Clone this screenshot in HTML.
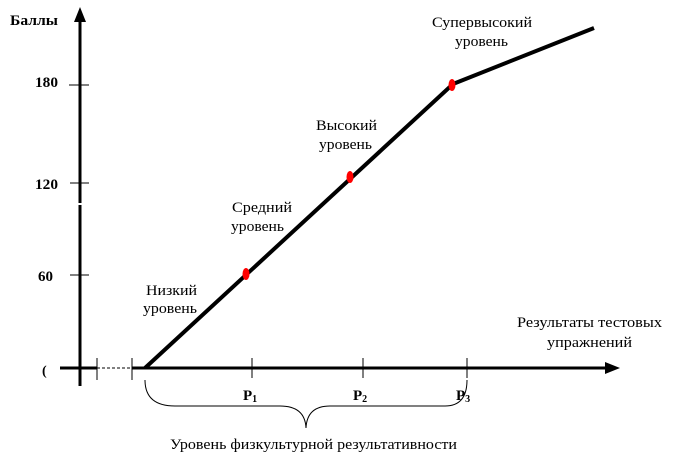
<!DOCTYPE html>
<html><head><meta charset="utf-8"><style>
html,body{margin:0;padding:0;background:#fff;}
svg{display:block;}
text{font-family:"Liberation Serif",serif;fill:#000;}
</style></head><body>
<svg width="675" height="461" viewBox="0 0 675 461" xmlns="http://www.w3.org/2000/svg">
<line x1="80" y1="20" x2="80" y2="203" stroke="#000" stroke-width="3"/>
<line x1="80" y1="205" x2="80" y2="386" stroke="#000" stroke-width="3"/>
<polygon points="80,7 74,22 86,22" fill="#000"/>
<line x1="69" y1="85" x2="89" y2="85" stroke="#000" stroke-width="1"/>
<line x1="70" y1="183" x2="89" y2="183" stroke="#000" stroke-width="1"/>
<line x1="70" y1="275" x2="89" y2="275" stroke="#000" stroke-width="1"/>
<line x1="60" y1="368" x2="97" y2="368" stroke="#000" stroke-width="3"/>
<line x1="97" y1="368" x2="132" y2="368" stroke="#000" stroke-width="1" stroke-dasharray="3,2"/>
<line x1="132" y1="368" x2="606" y2="368" stroke="#000" stroke-width="3"/>
<polygon points="620,368 605,362 605,374" fill="#000"/>
<line x1="97" y1="358" x2="97" y2="380" stroke="#000" stroke-width="1"/>
<line x1="132" y1="358" x2="132" y2="380" stroke="#000" stroke-width="1"/>
<line x1="252" y1="358" x2="252" y2="378" stroke="#000" stroke-width="1"/>
<line x1="363" y1="358" x2="363" y2="378" stroke="#000" stroke-width="1"/>
<line x1="467" y1="358" x2="467" y2="378" stroke="#000" stroke-width="1"/>
<polyline points="145,368 453,84 594,28" fill="none" stroke="#000" stroke-width="4"/>
<ellipse cx="246" cy="274" rx="3.5" ry="6" fill="#f00"/>
<ellipse cx="350" cy="177" rx="3.5" ry="6" fill="#f00"/>
<ellipse cx="452" cy="85" rx="3.5" ry="6" fill="#f00"/>
<path d="M145,380 Q145,406 175,406 L280,406 Q305,406 306,428 Q307,406 330,406 L445,406 Q467,406 467,380" fill="none" stroke="#000" stroke-width="1"/>
<text x="10" y="25" font-size="15" font-weight="bold" textLength="48" lengthAdjust="spacingAndGlyphs">Баллы</text>
<text x="35" y="87" font-size="15" font-weight="bold" textLength="23" lengthAdjust="spacingAndGlyphs">180</text>
<text x="35" y="189" font-size="15" font-weight="bold" textLength="23" lengthAdjust="spacingAndGlyphs">120</text>
<text x="38" y="281" font-size="15" font-weight="bold">60</text>
<text x="42" y="375" font-size="14" font-weight="bold">(</text>
<text x="146" y="295" font-size="15" textLength="51" lengthAdjust="spacingAndGlyphs">Низкий</text>
<text x="143" y="313" font-size="15" textLength="54" lengthAdjust="spacingAndGlyphs">уровень</text>
<text x="232" y="212" font-size="15" textLength="60" lengthAdjust="spacingAndGlyphs">Средний</text>
<text x="231" y="231" font-size="15" textLength="53" lengthAdjust="spacingAndGlyphs">уровень</text>
<text x="316" y="130" font-size="15" textLength="61" lengthAdjust="spacingAndGlyphs">Высокий</text>
<text x="319" y="149" font-size="15" textLength="53" lengthAdjust="spacingAndGlyphs">уровень</text>
<text x="432" y="27" font-size="15" textLength="100" lengthAdjust="spacingAndGlyphs">Супервысокий</text>
<text x="455" y="46" font-size="15" textLength="53" lengthAdjust="spacingAndGlyphs">уровень</text>
<text x="517" y="327" font-size="15" textLength="145" lengthAdjust="spacingAndGlyphs">Результаты тестовых</text>
<text x="547" y="347" font-size="15" textLength="85" lengthAdjust="spacingAndGlyphs">упражнений</text>
<text x="243" y="400" font-size="15" font-weight="bold">P<tspan font-size="10" dy="2">1</tspan></text>
<text x="353" y="400" font-size="15" font-weight="bold">P<tspan font-size="10" dy="2">2</tspan></text>
<text x="456" y="400" font-size="15" font-weight="bold">P<tspan font-size="10" dy="2">3</tspan></text>
<text x="170" y="449" font-size="15" textLength="287" lengthAdjust="spacingAndGlyphs">Уровень физкультурной результативности</text>
</svg>
</body></html>
